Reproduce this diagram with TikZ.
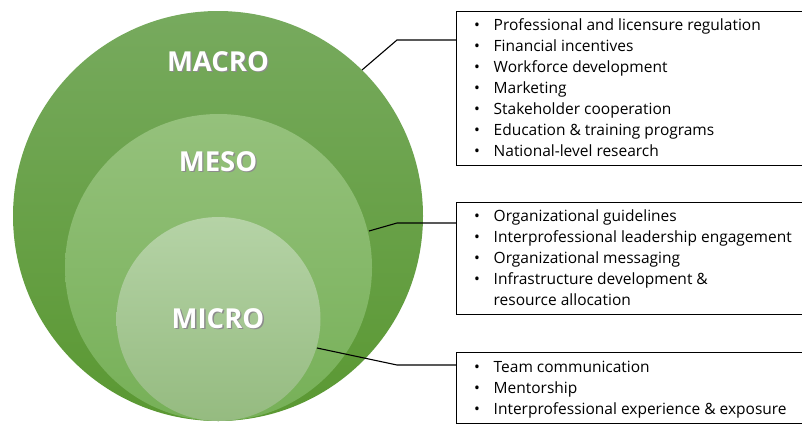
\documentclass[tikz,border=0pt]{standalone}
\usepackage{fontspec}
\setmainfont{Open Sans}
\usetikzlibrary{positioning}

\definecolor{macroTop}{HTML}{77AA5E}
\definecolor{macroBot}{HTML}{5A9832}
\definecolor{mesoTop}{HTML}{95C17C}
\definecolor{mesoBot}{HTML}{76B057}
\definecolor{microTop}{HTML}{B5D3A6}
\definecolor{microBot}{HTML}{95BB80}

% bullet item with a fixed hanging indent
\newcommand{\bitem}[1]{\makebox[20.5pt][l]{\hspace{1pt}\textbullet}#1}
\newcommand{\cont}[1]{\hspace{20.5pt}#1}
% white level title with a soft drop shadow
\newcommand{\leveltitle}[1]{\rlap{\hspace{1.4pt}\raisebox{-1.4pt}{\color{black!45}#1}}#1}

\tikzset{
  level/.style={font=\fontsize{27.5}{27.5}\selectfont\bfseries, text=white, inner sep=0pt},
  listbox/.style={draw=black, line width=1.1pt, anchor=north west, inner sep=0pt},
  listtext/.style={anchor=north west, align=left, inner sep=0pt,
    font=\fontsize{15.5}{21}\selectfont},
  leader/.style={draw=black, line width=1.1pt},
}

\begin{document}
\begin{tikzpicture}[x=1pt,y=-1pt]
  \useasboundingbox (0,0) rectangle (802,423);

  % nested circles, all touching at the bottom
  \shade[top color=macroTop, bottom color=macroBot] (218,216) circle[radius=205pt];
  \shade[top color=mesoTop, bottom color=mesoBot] (218.5,267.5) circle[radius=153.5pt];
  \shade[top color=microTop, bottom color=microBot] (218.5,319) circle[radius=102pt];

  \node[level] (macro) at (218,62) {\leveltitle{MACRO}};
  \node[level] (meso)  at (218,162) {\leveltitle{MESO}};
  \node[level] (micro) at (218,319) {\leveltitle{MICRO}};

  % list boxes (the right side runs past the page edge)
  \node[listbox, minimum width=352pt, minimum height=154pt] (box1) at (456,11) {};
  \node[listbox, minimum width=352pt, minimum height=112pt] (box2) at (456,202) {};
  \node[listbox, minimum width=352pt, minimum height=71pt]  (box3) at (456,352) {};

  \node[listtext] (list1) at (473,18.5) {%
    \bitem{Professional and licensure regulation}\\
    \bitem{Financial incentives}\\
    \bitem{Workforce development}\\
    \bitem{Marketing}\\
    \bitem{Stakeholder cooperation}\\
    \bitem{Education \& training programs}\\
    \bitem{National-level research}};

  \node[listtext] (list2) at (473,209.5) {%
    \bitem{Organizational guidelines}\\
    \bitem{Interprofessional leadership engagement}\\
    \bitem{Organizational messaging}\\
    \bitem{Infrastructure development \&}\\
    \cont{resource allocation}};

  \node[listtext] (list3) at (473,360.5) {%
    \bitem{Team communication}\\
    \bitem{Mentorship}\\
    \bitem{Interprofessional experience \& exposure}};

  % leader lines from each ring to its box
  \coordinate (c1) at (362,70);
  \coordinate (c2) at (369,231);
  \coordinate (c3) at (317,348);
  \draw[leader] (c1) -- (397,40) -- (box1.west |- 0,40);
  \draw[leader] (c2) -- (397,223) -- (box2.west |- 0,223);
  \draw[leader] (c3) -- (397,365) -- (box3.west |- 0,365);
\end{tikzpicture}
\end{document}
